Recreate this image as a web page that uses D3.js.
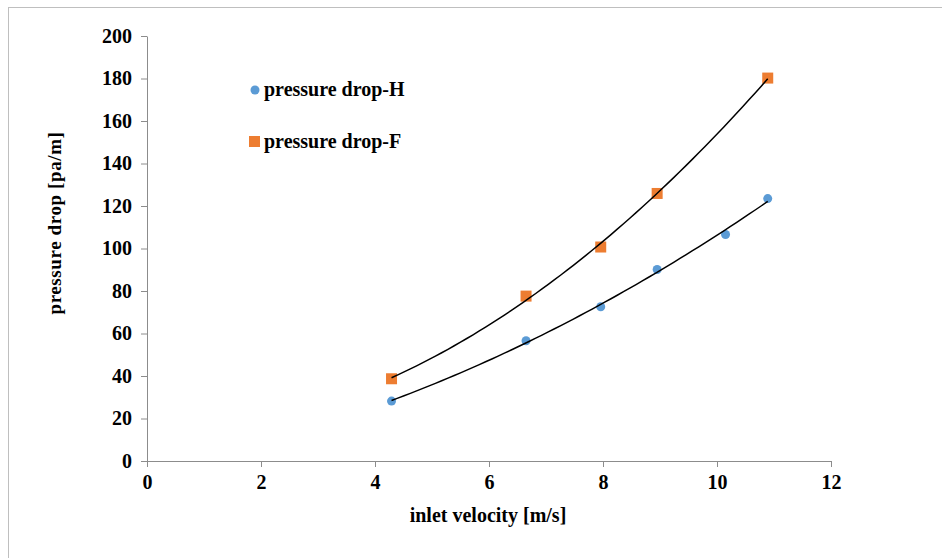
<!DOCTYPE html>
<html>
<head>
<meta charset="utf-8">
<script src="https://cdn.jsdelivr.net/npm/d3@7"></script>
<style>
  body { margin: 0; background: #fff; }
  svg { display: block; }
  text { font-family: "Liberation Serif", "Times New Roman", Times, serif; font-weight: bold; }
</style>
</head>
<body>
<div id="chart"></div>
<script>
// values
const velocityH = [4.29, 6.65, 7.96, 8.95, 10.15, 10.89];
const pressureH = [28.2, 56.6, 72.6, 90.1, 106.6, 123.5];
const velocityF = [4.29, 6.65, 7.96, 8.95, 10.89];
const pressureF = [38.7, 77.6, 100.7, 125.9, 180.2];
const xTicks = [0, 2, 4, 6, 8, 10, 12];
const yTicks = [0, 20, 40, 60, 80, 100, 120, 140, 160, 180, 200];
const seriesNames = ["pressure drop-H", "pressure drop-F"];

const width = 942, height = 558;

const svg = d3.select("#chart").append("svg")
    .attr("width", width)
    .attr("height", height);

// outer frame
svg.append("rect")
    .attr("x", 8.5).attr("y", 7.5)
    .attr("width", width).attr("height", height)
    .attr("fill", "none")
    .attr("stroke", "#bfbfbf")
    .attr("stroke-width", 1);

const x = d3.scaleLinear().domain([0, 12]).range([147, 831]);
const y = d3.scaleLinear().domain([0, 200]).range([461, 36]);

const axisColor = "#8c8c8c";

// x axis
const gx = svg.append("g")
    .attr("transform", `translate(0,${y(0)})`)
    .call(d3.axisBottom(x).tickValues(xTicks).tickSize(6).tickSizeOuter(0));
gx.attr("font-family", null);
gx.select(".domain").attr("stroke", axisColor);
gx.selectAll(".tick line").attr("stroke", axisColor);
gx.selectAll(".tick text")
    .attr("y", 14)
    .attr("fill", "#000")
    .style("font-size", "20px");

// y axis
const gy = svg.append("g")
    .attr("transform", `translate(${x(0)},0)`)
    .call(d3.axisLeft(y).tickValues(yTicks).tickSize(6).tickSizeOuter(0));
gy.attr("font-family", null);
gy.select(".domain").attr("stroke", axisColor);
gy.selectAll(".tick line").attr("stroke", axisColor);
gy.selectAll(".tick text")
    .attr("x", -15)
    .attr("fill", "#000")
    .style("font-size", "20px");

// axis titles
svg.append("text")
    .attr("x", 488).attr("y", 522)
    .attr("text-anchor", "middle")
    .style("font-size", "20px")
    .text("inlet velocity [m/s]");

svg.append("text")
    .attr("transform", "translate(61,223) rotate(-90)")
    .attr("text-anchor", "middle")
    .style("font-size", "19px")
    .style("letter-spacing", "0.6px")
    .text("pressure drop [pa/m]");

// quadratic least-squares trendline
function polyFit(xs, ys) {
    let n = xs.length, s = [0, 0, 0, 0, 0], t = [0, 0, 0];
    for (let i = 0; i < n; i++) {
        let p = 1;
        for (let k = 0; k < 5; k++) { s[k] += p; if (k < 3) t[k] += p * ys[i]; p *= xs[i]; }
    }
    const m = [[s[0], s[1], s[2], t[0]], [s[1], s[2], s[3], t[1]], [s[2], s[3], s[4], t[2]]];
    for (let c = 0; c < 3; c++) {
        for (let r = c + 1; r < 3; r++) {
            const f = m[r][c] / m[c][c];
            for (let k = c; k < 4; k++) m[r][k] -= f * m[c][k];
        }
    }
    const a = [0, 0, 0];
    for (let r = 2; r >= 0; r--) {
        let v = m[r][3];
        for (let k = r + 1; k < 3; k++) v -= m[r][k] * a[k];
        a[r] = v / m[r][r];
    }
    return v => a[0] + a[1] * v + a[2] * v * v;
}

const line = d3.line().x(d => x(d[0])).y(d => y(d[1]));

function trend(xs, ys) {
    const f = polyFit(xs, ys);
    const lo = d3.min(xs), hi = d3.max(xs);
    const pts = d3.range(0, 61).map(i => { const v = lo + (hi - lo) * i / 60; return [v, f(v)]; });
    svg.append("path")
        .attr("d", line(pts))
        .attr("fill", "none")
        .attr("stroke", "#000")
        .attr("stroke-width", 1.5);
}

const blue = "#5b9bd5", orange = "#ed7d31";

// markers
svg.append("g").selectAll("circle")
    .data(d3.zip(velocityH, pressureH))
    .join("circle")
    .attr("cx", d => x(d[0]))
    .attr("cy", d => y(d[1]))
    .attr("r", 4.5)
    .attr("fill", blue);

svg.append("g").selectAll("rect")
    .data(d3.zip(velocityF, pressureF))
    .join("rect")
    .attr("x", d => x(d[0]) - 5.5)
    .attr("y", d => y(d[1]) - 5.5)
    .attr("width", 11)
    .attr("height", 11)
    .attr("fill", orange);

trend(velocityH, pressureH);
trend(velocityF, pressureF);

// legend
const legend = svg.append("g").style("font-size", "20px");
legend.append("circle").attr("cx", 255).attr("cy", 90).attr("r", 4.5).attr("fill", blue);
legend.append("text").attr("x", 264).attr("y", 96).text(seriesNames[0]);
legend.append("rect").attr("x", 249).attr("y", 136).attr("width", 11).attr("height", 11).attr("fill", orange);
legend.append("text").attr("x", 264).attr("y", 148).text(seriesNames[1]);
</script>
</body>
</html>
